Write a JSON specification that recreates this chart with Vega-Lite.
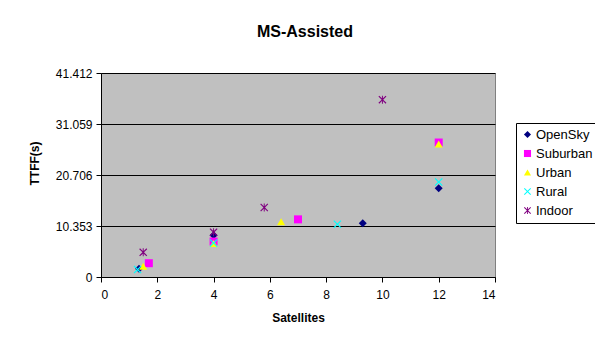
{
  "$schema": "https://vega.github.io/schema/vega-lite/v6.json",
  "width": 394,
  "height": 204,
  "autosize": "none",
  "padding": {"left": 101, "top": 73, "right": 100, "bottom": 64},
  "background": "white",
  "title": {"text": "MS-Assisted", "font": "Liberation Sans", "fontSize": 16, "fontWeight": "bold", "color": "black", "offset": 27, "anchor": "middle", "dx": 7},
  "config": {
    "font": "Liberation Sans",
    "view": {"fill": "#C0C0C0", "stroke": "#808080", "strokeWidth": 1}
  },
  "data": {"values": [
    {"series": "OpenSky", "sat": 1.35, "ttff": 1.7},
    {"series": "OpenSky", "sat": 4.0, "ttff": 8.5},
    {"series": "OpenSky", "sat": 9.3, "ttff": 10.9},
    {"series": "OpenSky", "sat": 12.0, "ttff": 18.0},
    {"series": "Suburban", "sat": 1.7, "ttff": 2.8},
    {"series": "Suburban", "sat": 4.0, "ttff": 7.2},
    {"series": "Suburban", "sat": 7.0, "ttff": 11.7},
    {"series": "Suburban", "sat": 12.0, "ttff": 27.3},
    {"series": "Urban", "sat": 1.5, "ttff": 2.2},
    {"series": "Urban", "sat": 4.0, "ttff": 6.8},
    {"series": "Urban", "sat": 6.4, "ttff": 11.2},
    {"series": "Urban", "sat": 12.0, "ttff": 27.0},
    {"series": "Rural", "sat": 1.3, "ttff": 1.5},
    {"series": "Rural", "sat": 4.0, "ttff": 6.9},
    {"series": "Rural", "sat": 8.4, "ttff": 10.7},
    {"series": "Rural", "sat": 12.0, "ttff": 19.3},
    {"series": "Indoor", "sat": 1.5, "ttff": 5.0},
    {"series": "Indoor", "sat": 4.0, "ttff": 9.1},
    {"series": "Indoor", "sat": 5.8, "ttff": 14.1},
    {"series": "Indoor", "sat": 10.0, "ttff": 36.0}
  ]},
  "mark": {"type": "point", "filled": true, "opacity": 1},
  "encoding": {
    "x": {"field": "sat", "type": "quantitative",
      "scale": {"domain": [0, 14], "nice": false, "zero": true},
      "axis": {"title": "Satellites", "values": [0,2,4,6,8,10,12,14], "grid": false,
        "domainColor": "black", "tickColor": "black", "tickSize": 5, "labelFontSize": 12, "labelColor": "black",
        "labelPadding": 7, "titleFontSize": 12, "titleFontWeight": "bold", "titleColor": "black", "titlePadding": 12}},
    "y": {"field": "ttff", "type": "quantitative",
      "scale": {"domain": [0, 41.412], "nice": false},
      "axis": {"title": "TTFF(s)", "values": [0, 10.353, 20.706, 31.059, 41.412], "format": ".5~g",
        "grid": true, "gridColor": "black", "gridOpacity": 1, "gridWidth": 1,
        "domainColor": "black", "tickColor": "black", "tickSize": 5, "labelFontSize": 12, "labelColor": "black",
        "labelPadding": 4, "titleFontSize": 12, "titleFontWeight": "bold", "titleColor": "black", "titlePadding": 14, "titleY": 90}},
    "color": {"field": "series", "type": "nominal",
      "scale": {"domain": ["OpenSky", "Suburban", "Urban", "Rural", "Indoor"],
        "range": ["#000080", "#FF00FF", "#FFFF00", "#00FFFF", "#800080"]},
      "legend": {"title": null, "orient": "none", "legendX": 415, "legendY": 50,
        "strokeColor": "black", "fillColor": "white", "padding": 5, "rowPadding": 5,
        "labelFontSize": 13, "labelColor": "black", "symbolSize": 50, "labelOffset": 2}},
    "shape": {"field": "series", "type": "nominal",
      "scale": {"domain": ["OpenSky", "Suburban", "Urban", "Rural", "Indoor"],
        "range": ["diamond", "square", "triangle-up",
          "M-1,-0.8L-0.8,-1L0,-0.2L0.8,-1L1,-0.8L0.2,0L1,0.8L0.8,1L0,0.2L-0.8,1L-1,0.8L-0.2,0Z",
          "M-1,-0.8L-0.8,-1L0,-0.2L0.8,-1L1,-0.8L0.2,0L1,0.8L0.8,1L0,0.2L-0.8,1L-1,0.8L-0.2,0ZM-0.12,-1L0.12,-1L0.12,1L-0.12,1Z"]}},
    "size": {"value": 64}
  }
}
